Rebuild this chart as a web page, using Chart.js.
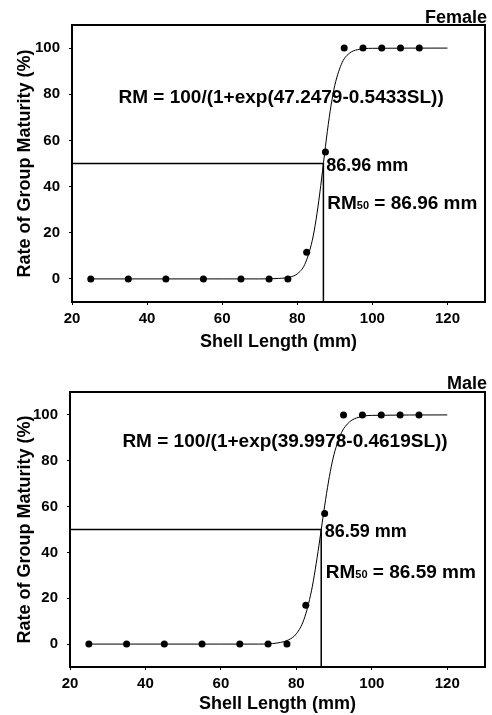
<!DOCTYPE html>
<html>
<head>
<meta charset="utf-8">
<script src="https://cdn.jsdelivr.net/npm/chart.js@4.4.1/dist/chart.umd.min.js"></script>
<style>
  body { margin: 0; background: #fff; }
  canvas { position: absolute; left: 0; }
  #female-chart { top: 0; }
  #male-chart { top: 357px; }
</style>
</head>
<body>
<canvas id="female-chart" width="492" height="357"></canvas>
<canvas id="male-chart" width="492" height="358"></canvas>
<script>
// observed shell length classes (mm)
var lengthClasses = [25, 35, 45, 55, 65, 72.5, 77.5, 82.5, 87.5, 92.5, 97.5, 102.5, 107.5, 112.5];
var femaleMaturity = [0, 0, 0, 0, 0, 0, 0, 11.5, 55, 100, 100, 100, 100, 100];
var maleMaturity = [0, 0, 0, 0, 0, 0, 0, 17, 57, 100, 100, 100, 100, 100];

// fitted curves
var curveLengths = [25, 60, 70, 75, 78, 80, 82, 84, 85, 86, 87, 88, 89, 90, 92, 94, 96, 100, 120];
var femaleCurve = [0, 0, 0, 0.2, 0.8, 2.2, 6.3, 16.7, 25.6, 37.2, 50.5, 63.8, 75.2, 83.9, 93.9, 97.9, 99.3, 99.9, 100];
var maleCurve = [0, 0, 0, 0.5, 1.9, 4.5, 10.7, 23.2, 32.5, 43.2, 54.7, 65.7, 75.3, 82.9, 92.4, 96.8, 98.7, 99.8, 100];

var femaleRm50 = 86.96;
var maleRm50 = 86.59;

var xTicks = [20, 40, 60, 80, 100, 120];
var yTicks = [0, 20, 40, 60, 80, 100];

var FONT = '"Liberation Sans", Arial, sans-serif';

function toPoints(xs, ys) {
  return xs.map(function (x, i) { return { x: x, y: ys[i] }; });
}

var panelPlugin = {
  id: 'panel',
  afterDatasetsDraw: function (chart) {
    var o = chart.options.plugins.panel;
    var ctx = chart.ctx;
    var a = chart.chartArea;
    var xs = chart.scales.x, ys = chart.scales.y;
    ctx.save();
    ctx.strokeStyle = '#000';
    ctx.lineWidth = 2;
    ctx.strokeRect(a.left, a.top, a.right - a.left, a.bottom - a.top);

    ctx.fillStyle = '#000';
    ctx.textBaseline = 'alphabetic';
    ctx.textAlign = 'right';
    ctx.font = 'bold 18px ' + FONT;
    ctx.fillText(o.label, 487, o.labelY);

    ctx.textAlign = 'center';
    ctx.textBaseline = 'middle';
    ctx.font = 'bold 19px ' + FONT;
    ctx.fillText(o.equation, xs.getPixelForValue(o.eqAt[0]), ys.getPixelForValue(o.eqAt[1]));

    ctx.textAlign = 'left';
    ctx.font = 'bold 18px ' + FONT;
    ctx.fillText(o.rm50.toFixed(2) + ' mm', xs.getPixelForValue(o.mmAt[0]), ys.getPixelForValue(o.mmAt[1]));

    var px = xs.getPixelForValue(o.rmAt[0]);
    var py = ys.getPixelForValue(o.rmAt[1]) + 7;
    ctx.textBaseline = 'alphabetic';
    ctx.font = 'bold 19px ' + FONT;
    ctx.fillText('RM', px, py);
    px += ctx.measureText('RM').width;
    ctx.font = 'bold 11px ' + FONT;
    ctx.fillText('50', px, py);
    px += ctx.measureText('50').width;
    ctx.font = 'bold 19px ' + FONT;
    ctx.fillText(' = ' + o.rm50.toFixed(2) + ' mm', px, py);
    ctx.restore();
  }
};

function makeChart(id, values, curve, rm50, opts) {
  var ctx = document.getElementById(id).getContext('2d');
  return new Chart(ctx, {
    type: 'scatter',
    data: {
      datasets: [
        {
          data: toPoints(curveLengths, curve),
          showLine: true,
          borderColor: '#000',
          borderWidth: 1,
          pointRadius: 0,
          cubicInterpolationMode: 'monotone'
        },
        {
          data: [{ x: 20, y: 50 }, { x: rm50, y: 50 }, { x: rm50, y: -10 }],
          showLine: true,
          borderColor: '#000',
          borderWidth: 1.5,
          pointRadius: 0,
          tension: 0
        },
        {
          data: toPoints(lengthClasses, values),
          showLine: false,
          pointRadius: 3.5,
          pointBackgroundColor: '#000',
          pointBorderColor: '#000',
          pointBorderWidth: 0
        }
      ]
    },
    options: {
      responsive: false,
      animation: false,
      devicePixelRatio: 1,
      layout: { padding: { top: opts.top, right: 7, left: 0, bottom: 0 } },
      plugins: {
        legend: { display: false },
        tooltip: { enabled: false },
        panel: {
          label: opts.label,
          labelY: opts.labelY,
          equation: opts.equation,
          eqAt: opts.eqAt,
          mmAt: opts.mmAt,
          rmAt: opts.rmAt,
          rm50: rm50
        }
      },
      scales: {
        x: {
          type: 'linear',
          min: 20,
          max: 130,
          afterBuildTicks: function (scale) {
            scale.ticks = xTicks.map(function (v) { return { value: v }; });
          },
          afterFit: function (scale) { scale.height = opts.xHeight; },
          grid: { drawOnChartArea: false, drawTicks: true, tickLength: 3, color: '#000' },
          border: { display: false },
          ticks: { color: '#000', padding: 5, maxRotation: 0, font: { family: FONT, size: 15, weight: 'bold' } },
          title: {
            display: true,
            text: 'Shell Length (mm)',
            color: '#000',
            padding: { top: 0, bottom: opts.xTitlePad },
            font: { family: FONT, size: 18, weight: 'bold' }
          }
        },
        y: {
          type: 'linear',
          min: -10,
          max: 110,
          afterBuildTicks: function (scale) {
            scale.ticks = yTicks.map(function (v) { return { value: v }; });
          },
          afterFit: function (scale) { scale.width = opts.yWidth; },
          grid: { drawOnChartArea: false, drawTicks: true, tickLength: 3, color: '#000' },
          border: { display: false },
          ticks: { color: '#000', padding: 9, font: { family: FONT, size: 15, weight: 'bold' } },
          title: {
            display: true,
            text: 'Rate of Group Maturity (%)',
            color: '#000',
            padding: { top: 14, bottom: 0 },
            font: { family: FONT, size: 18, weight: 'bold' }
          }
        }
      }
    },
    plugins: [panelPlugin]
  });
}

document.addEventListener('DOMContentLoaded', function () {
  makeChart('female-chart', femaleMaturity, femaleCurve, femaleRm50, {
    label: 'Female',
    labelY: 23,
    top: 25,
    xHeight: 55,
    yWidth: 72,
    xTitlePad: 4,
    equation: 'RM = 100/(1+exp(47.2479-0.5433SL))',
    eqAt: [75.7, 78.6],
    mmAt: [87.7, 48.9],
    rmAt: [88, 33.2]
  });

  makeChart('male-chart', maleMaturity, maleCurve, maleRm50, {
    label: 'Male',
    labelY: 32,
    top: 35,
    xHeight: 48,
    yWidth: 70,
    xTitlePad: 0,
    equation: 'RM = 100/(1+exp(39.9978-0.4619SL))',
    eqAt: [77, 88.3],
    mmAt: [87.5, 49.1],
    rmAt: [87.8, 31.9]
  });
});
</script>
</body>
</html>
